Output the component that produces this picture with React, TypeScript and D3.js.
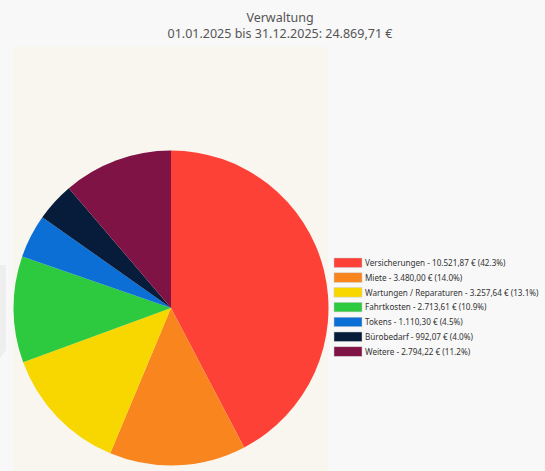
import React from "react";
import * as d3 from "d3";

const categories = ["Versicherungen", "Miete", "Wartungen / Reparaturen", "Fahrtkosten", "Tokens", "Bürobedarf", "Weitere"];
const values = [10521.87, 3480.0, 3257.64, 2713.61, 1110.3, 992.07, 2794.22];
const colors = ["#fd4136", "#f9851f", "#f8d700", "#2dc93f", "#0b6fd6", "#061c3a", "#801345"];
const titleLines = ["Verwaltung", "01.01.2025 bis 31.12.2025: 24.869,71 €"];

const W = 545, H = 471;
const de = d3.formatLocale({ decimal: ",", thousands: ".", grouping: [3], currency: ["", " €"] });
const fmtEur = de.format(",.2f");

export default function App() {
  const total = d3.sum(values);
  const cx = 171, cy = 308, r = 157.5;
  const pie = d3.pie<number>().sort(null).value((d) => d)(values);
  const arc = d3.arc<d3.PieArcDatum<number>>().innerRadius(0).outerRadius(r);
  const legendY = d3.scaleLinear().domain([0, 1]).range([258, 272.8]);
  const font = "'Noto Sans', 'Open Sans', sans-serif";
  return (
    <svg width={W} height={H} style={{ position: "absolute", left: 0, top: 0 }} fontFamily={font}>
      <rect x={0} y={0} width={W} height={H} fill="#f8f8f8" />
      <path d="M0,265 L6,265 L6,350 L0,358 Z" fill="#eeeeee" />
      <rect x={13} y={47} width={315} height={H - 47} fill="#f9f6ef" />
      <text x={280} y={22} textAnchor="middle" fontSize={12.5} fill="#555">{titleLines[0]}</text>
      <text x={280} y={37.5} textAnchor="middle" fontSize={12.5} fill="#555">{titleLines[1]}</text>
      <g transform={`translate(${cx},${cy})`}>
        {pie.map((d, i) => (
          <path key={i} d={arc(d) || ""} fill={colors[i]} />
        ))}
      </g>
      <g>
        {categories.map((c, i) => (
          <g key={c} transform={`translate(334,${legendY(i)})`}>
            <rect x={0} y={0} width={28} height={9.5} fill={colors[i]} stroke="#ccc" strokeWidth={0.5} />
            <text x={31} y={8} fontSize={8.15} fill="#333">
              {`${c} - ${fmtEur(values[i])} € (${((values[i] / total) * 100).toFixed(1)}%)`}
            </text>
          </g>
        ))}
      </g>
    </svg>
  );
}
